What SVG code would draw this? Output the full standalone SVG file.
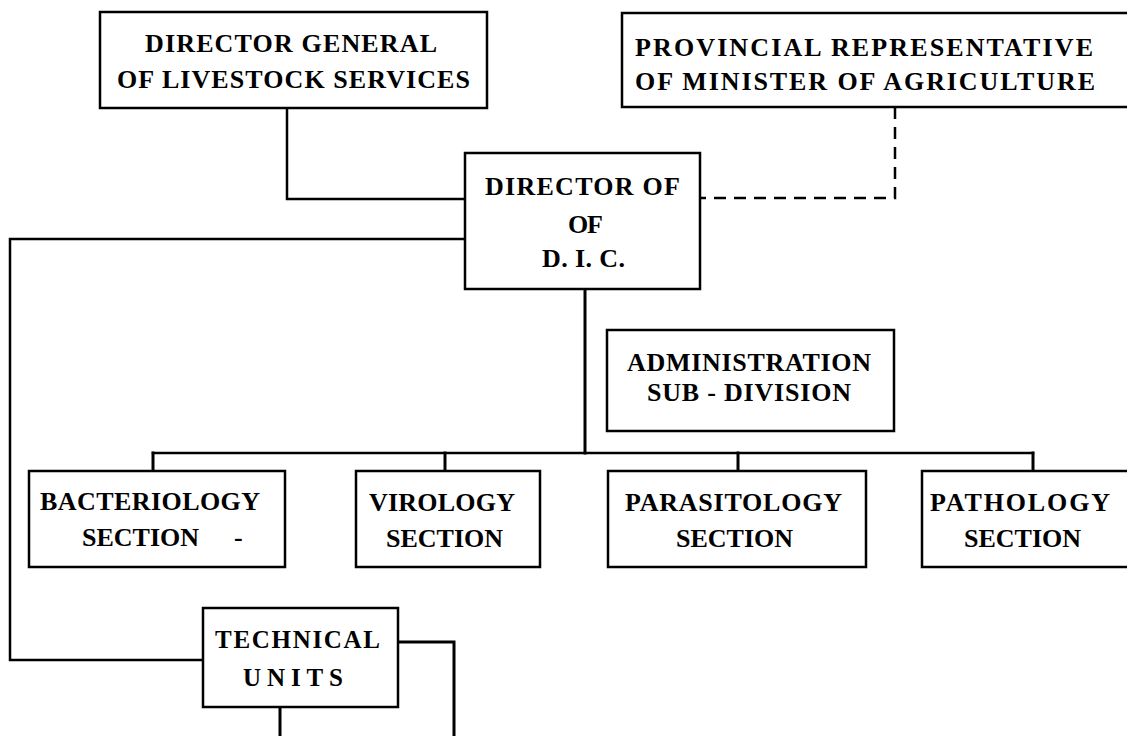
<svg xmlns="http://www.w3.org/2000/svg" width="1127" height="736" viewBox="0 0 1127 736">
<style>
  .box { fill: #ffffff; stroke: #000000; stroke-width: 2.5; }
  .ln { fill: none; stroke: #000000; stroke-width: 2.5; stroke-linecap: square; }
  .v { stroke-width: 3; }
  .dash { fill: none; stroke: #000000; stroke-width: 2.5; stroke-dasharray: 12 8; }
  .t { font-family: "Liberation Serif", "DejaVu Serif", serif; font-weight: bold; font-size: 26px; fill: #000000; }
  .ts { font-family: "Liberation Serif", "DejaVu Serif", serif; font-weight: bold; font-size: 25px; fill: #000000; }
</style>
<rect x="0" y="0" width="1127" height="736" fill="#ffffff"/>
<g id="connectors">
  <polyline class="ln" points="287,108 287,199 465,199"/>
  <polyline class="dash" points="895,107 895,198 700,198"/>
  <polyline class="ln" points="465,239 10,239 10,660 203,660"/>
  <line class="ln v" x1="585" y1="289" x2="585" y2="453"/>
  <line class="ln" x1="153" y1="453" x2="1033" y2="453"/>
  <line class="ln v" x1="153" y1="453" x2="153" y2="471"/>
  <line class="ln v" x1="445" y1="453" x2="445" y2="471"/>
  <line class="ln v" x1="738" y1="453" x2="738" y2="471"/>
  <line class="ln v" x1="1033" y1="453" x2="1033" y2="471"/>
  <polyline class="ln v" points="398,642 454,642 454,740"/>
  <line class="ln v" x1="280" y1="707" x2="280" y2="740"/>
</g>
<g id="dg">
  <rect class="box" x="100" y="12" width="387" height="96"/>
  <text class="t" x="145" y="52" textLength="292" lengthAdjust="spacing">DIRECTOR GENERAL</text>
  <text class="t" x="117" y="88" textLength="353" lengthAdjust="spacing">OF LIVESTOCK SERVICES</text>
</g>
<g id="pr">
  <rect class="box" x="622" y="13" width="520" height="94"/>
  <text class="t" x="635" y="56" textLength="458" lengthAdjust="spacing">PROVINCIAL REPRESENTATIVE</text>
  <text class="t" x="635" y="90" textLength="460" lengthAdjust="spacing">OF MINISTER OF AGRICULTURE</text>
</g>
<g id="dic">
  <rect class="box" x="465" y="153" width="235" height="136"/>
  <text class="t" x="485" y="195" textLength="195" lengthAdjust="spacing">DIRECTOR OF</text>
  <text class="t" x="568" y="233" textLength="35" lengthAdjust="spacing">OF</text>
  <text class="t" x="542" y="267" textLength="83" lengthAdjust="spacing">D. I. C.</text>
</g>
<g id="admin">
  <rect class="box" x="607" y="330" width="287" height="101"/>
  <text class="t" x="627" y="371" textLength="244" lengthAdjust="spacing">ADMINISTRATION</text>
  <text class="t" x="647" y="401" textLength="204" lengthAdjust="spacing">SUB - DIVISION</text>
</g>
<g id="bact">
  <rect class="box" x="29" y="471" width="256" height="96"/>
  <text class="t" x="40" y="510" textLength="220" lengthAdjust="spacing">BACTERIOLOGY</text>
  <text class="t" x="82" y="546" textLength="117" lengthAdjust="spacing">SECTION</text>
  <text class="t" x="234" y="546">-</text>
</g>
<g id="vir">
  <rect class="box" x="356" y="471" width="184" height="96"/>
  <text class="t" x="369" y="511" textLength="146" lengthAdjust="spacing">VIROLOGY</text>
  <text class="t" x="386" y="547" textLength="117" lengthAdjust="spacing">SECTION</text>
</g>
<g id="para">
  <rect class="box" x="608" y="471" width="258" height="96"/>
  <text class="t" x="625" y="511" textLength="217" lengthAdjust="spacing">PARASITOLOGY</text>
  <text class="t" x="676" y="547" textLength="117" lengthAdjust="spacing">SECTION</text>
</g>
<g id="path">
  <rect class="box" x="922" y="471" width="220" height="96"/>
  <text class="t" x="930" y="511" textLength="180" lengthAdjust="spacing">PATHOLOGY</text>
  <text class="t" x="964" y="547" textLength="117" lengthAdjust="spacing">SECTION</text>
</g>
<g id="tech">
  <rect class="box" x="203" y="608" width="195" height="99"/>
  <text class="ts" x="215" y="648" textLength="165" lengthAdjust="spacing">TECHNICAL</text>
  <text class="ts" x="243" y="686" textLength="100" lengthAdjust="spacing">UNITS</text>
</g>
</svg>
